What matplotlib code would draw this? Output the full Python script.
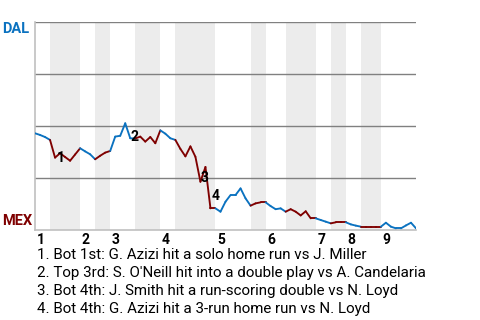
import matplotlib
matplotlib.use("Agg")
import matplotlib.pyplot as plt
from matplotlib.collections import LineCollection
import numpy as np

plt.rcParams['font.family'] = ['Roboto', 'DejaVu Sans']

# ---- data ----
dal_wp = [0.465, 0.457, 0.447, 0.433, 0.348, 0.369, 0.351, 0.333, 0.363, 0.393,
          0.378, 0.364, 0.340, 0.357, 0.372, 0.380, 0.449, 0.453, 0.513, 0.441,
          0.440, 0.449, 0.425, 0.447, 0.417, 0.479, 0.463, 0.441, 0.433, 0.390,
          0.354, 0.402, 0.352, 0.232, 0.303, 0.104, 0.104, 0.088, 0.136, 0.168,
          0.168, 0.200, 0.152, 0.117, 0.128, 0.133, 0.133, 0.115, 0.100, 0.104,
          0.088, 0.100, 0.088, 0.070, 0.090, 0.056, 0.056, 0.048, 0.040, 0.032,
          0.037, 0.037, 0.037, 0.027, 0.021, 0.016, 0.016, 0.016, 0.016, 0.016,
          0.035, 0.016, 0.008, 0.008, 0.022, 0.035, 0.008]
inning_starts = [0, 9, 15, 25, 36, 46, 56, 62, 69]
inning_labels = ["1", "2", "3", "4", "5", "6", "7", "8", "9"]
bottom_halves = [(3, 9), (12, 15), (20, 25), (28, 36), (43, 46), (50, 56), (59, 62), (65, 69)]
event_plays = [4, 19, 33, 35]
event_labels = ["1", "2", "3", "4"]
event_texts = [
    "1. Bot 1st: G. Azizi hit a solo home run vs J. Miller",
    "2. Top 3rd: S. O'Neill hit into a double play vs A. Candelaria",
    "3. Bot 4th: J. Smith hit a run-scoring double vs N. Loyd",
    "4. Bot 4th: G. Azizi hit a 3-run home run vs N. Loyd",
]
team_top = "DAL"
team_bottom = "MEX"

BLUE = "#0b72c0"
RED = "#7f0000"

fig = plt.figure(figsize=(4.8, 3.2), dpi=100)
ax = fig.add_axes([35/480, 1-230/320, (416-35)/480, (230-22)/320])
n = len(dal_wp)
xs = np.arange(n)
ax.set_xlim(0, n - 1)
ax.set_ylim(0, 1)

for a, b in bottom_halves:
    ax.axvspan(a, b, color="#ececec", lw=0, zorder=0)

for g in [0.25, 0.5, 0.75, 1.0]:
    ax.axhline(g, color="#808080", lw=1.0, zorder=1)

def is_bottom(m):
    return any(a <= m <= b for a, b in bottom_halves)

segs, cols = [], []
for i in range(n - 1):
    segs.append([(xs[i], dal_wp[i]), (xs[i+1], dal_wp[i+1])])
    cols.append(RED if is_bottom(i + 0.5) else BLUE)
lc = LineCollection(segs, colors=cols, linewidths=1.35, zorder=3, capstyle='round', joinstyle='round')
ax.add_collection(lc)

offsets = [(1, 0), (0, 1), (0, 3), (1, 9)]
for p, lab, off in zip(event_plays, event_labels, offsets):
    ax.annotate(lab, (p, dal_wp[p]), xytext=off, textcoords='offset points',
                ha='left', va='center', fontsize=10, fontweight='bold', color='black', zorder=4)

for s in ['top', 'right']:
    ax.spines[s].set_visible(False)
for s in ['left', 'bottom']:
    ax.spines[s].set_color("#c0c0c0")
    ax.spines[s].set_linewidth(1.2)
ax.set_xticks([])
ax.set_yticks([])

for st, lab in zip(inning_starts, inning_labels):
    ax.annotate(lab, (st, 0), xytext=(1, -2.5), textcoords='offset points',
                ha='left', va='top', fontsize=10, fontweight='bold', color='black')

fig.text(2/480, 1-29/320, team_top, ha='left', va='center', fontsize=10.5,
         fontweight='bold', color=BLUE)
fig.text(2/480, 1-221/320, team_bottom, ha='left', va='center', fontsize=10.5,
         fontweight='bold', color=RED)

for k, t in enumerate(event_texts):
    fig.text(37/480, 1-(259 + k*18)/320, t, ha='left', va='baseline', fontsize=10.9, color='black')

fig.savefig("out.png", dpi=100)
